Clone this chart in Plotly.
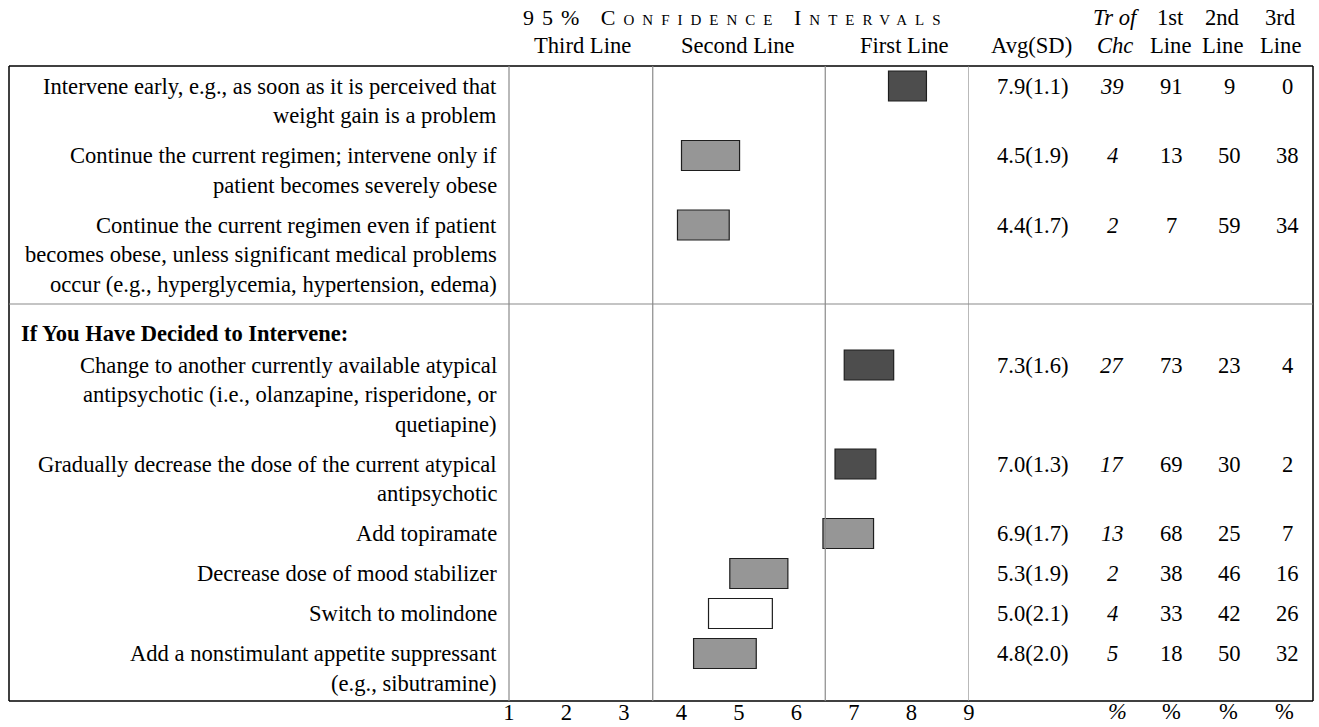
import plotly.graph_objects as go

# ---- data ---------------------------------------------------------------
labels = [
    ["Intervene early, e.g., as soon as it is perceived that", "weight gain is a problem"],
    ["Continue the current regimen; intervene only if", "patient becomes severely obese"],
    ["Continue the current regimen even if patient",
     "becomes obese, unless significant medical problems",
     "occur (e.g., hyperglycemia, hypertension, edema)"],
    ["Change to another currently available atypical",
     "antipsychotic (i.e., olanzapine, risperidone, or", "quetiapine)"],
    ["Gradually decrease the dose of the current atypical", "antipsychotic"],
    ["Add topiramate"],
    ["Decrease dose of mood stabilizer"],
    ["Switch to molindone"],
    ["Add a nonstimulant appetite suppressant", "(e.g., sibutramine)"],
]
section_title = "If You Have Decided to Intervene:"
section_start = 3  # index of first item under the section heading

avg = [7.9, 4.5, 4.4, 7.3, 7.0, 6.9, 5.3, 5.0, 4.8]
sd = [1.1, 1.9, 1.7, 1.6, 1.3, 1.7, 1.9, 2.1, 2.0]
ci_low = [7.60, 4.00, 3.93, 6.83, 6.67, 6.46, 4.84, 4.47, 4.21]
ci_high = [8.26, 5.01, 4.83, 7.69, 7.38, 7.34, 5.85, 5.58, 5.30]
rating = ["first", "second", "second", "first", "first", "second", "second", "none", "second"]
tr_chc = [39, 4, 2, 27, 17, 13, 2, 4, 5]
pct_first = [91, 13, 7, 73, 69, 68, 38, 33, 18]
pct_second = [9, 50, 59, 23, 30, 25, 46, 42, 50]
pct_third = [0, 38, 34, 4, 2, 7, 16, 26, 32]

scale_ticks = [1, 2, 3, 4, 5, 6, 7, 8, 9]
zone_bounds = [3.5, 6.5, 9]
zone_names = ["Third Line", "Second Line", "First Line"]

# ---- styling / layout constants ----------------------------------------
W, H = 1319, 727
FONT = "Liberation Serif"
FS = 22.6
LINE = 29.5
GAP = 10.5
TOP, BOTTOM, LEFT, RIGHT = 66, 701, 9, 1313
LABEL_RIGHT = 499
PLOT_X0, PLOT_X1 = 509, 969
GRID = "#8a8a8a"
fills = {"first": "#4d4d4d", "second": "#969696", "none": "#ffffff"}

# right-hand table column centres (pixels)
col_avg, col_tr, col_1, col_2, col_3 = 1033, 1112, 1171, 1229, 1287


def px(x):
    return x / W


# ---- vertical positions of rows -----------------------------------------
row_y = []
y = 86
for i, lines in enumerate(labels):
    if i == section_start:
        header_y = y + 9
        sep_y = header_y - 29
        y = header_y + 32
    row_y.append(y)
    y += len(lines) * LINE + GAP

fig = go.Figure()

# confidence-interval boxes
for r in ["first", "second", "none"]:
    idx = [i for i in range(len(avg)) if rating[i] == r]
    fig.add_trace(go.Bar(
        orientation="h",
        y=[row_y[i] for i in idx],
        base=[ci_low[i] for i in idx],
        x=[ci_high[i] - ci_low[i] for i in idx],
        width=30,
        marker=dict(color=fills[r], line=dict(color="#1e1e1e", width=1.2)),
        showlegend=False,
        hoverinfo="skip",
    ))

shapes = []
# frame
for (x0, y0, x1, y1) in [(LEFT, TOP, RIGHT, TOP), (LEFT, BOTTOM, RIGHT, BOTTOM),
                         (LEFT, TOP, LEFT, BOTTOM), (RIGHT, TOP, RIGHT, BOTTOM)]:
    shapes.append(dict(type="line", xref="paper", yref="y", x0=px(x0), x1=px(x1),
                       y0=y0, y1=y1, line=dict(color="black", width=1.5)))
# section separator
shapes.append(dict(type="line", xref="paper", yref="y", x0=px(LEFT), x1=px(RIGHT),
                   y0=sep_y, y1=sep_y, line=dict(color=GRID, width=1.2)))
# column dividers
shapes.append(dict(type="line", xref="paper", yref="y", x0=px(PLOT_X0), x1=px(PLOT_X0),
                   y0=TOP, y1=BOTTOM, line=dict(color=GRID, width=1.2)))
for b in zone_bounds:
    shapes.append(dict(type="line", xref="x", yref="y", x0=b, x1=b,
                       y0=TOP, y1=BOTTOM, line=dict(color=GRID, width=1.2)))

ann = []


def text(x, y, s, anchor="center", size=FS, italic=False, bold=False):
    if italic:
        s = "<i>" + s + "</i>"
    if bold:
        s = "<b>" + s + "</b>"
    ann.append(dict(x=px(x), y=y, xref="paper", yref="y", text=s, showarrow=False,
                    xanchor=anchor, yanchor="middle",
                    font=dict(family=FONT, size=size, color="black")))


# row labels
for i, lines in enumerate(labels):
    for j, line in enumerate(lines):
        text(LABEL_RIGHT, row_y[i] + j * LINE, line, anchor="right")
text(19, header_y, section_title, anchor="left", bold=True, size=22.5)

# right-hand values
for i in range(len(avg)):
    yy = row_y[i]
    text(col_avg, yy, f"{avg[i]:.1f}({sd[i]:.1f})")
    text(col_tr, yy, str(tr_chc[i]), italic=True)
    text(col_1, yy, str(pct_first[i]))
    text(col_2, yy, str(pct_second[i]))
    text(col_3, yy, str(pct_third[i]))

# headers
H1, H2 = 17, 45
ann.append(dict(x=px(736), y=H1, xref="paper", yref="y", showarrow=False,
                xanchor="center", yanchor="middle",
                text="<span style='letter-spacing:8px;font-variant:small-caps'>95% Confidence Intervals</span>",
                font=dict(family=FONT, size=22, color="black")))
for name, cx in zip(zone_names, [582, 738, 904]):
    text(cx, H2, name)
text(col_avg - 2, H2, "Avg(SD)")
text(col_tr + 4, H1, "Tr of", italic=True)
text(col_tr + 3, H2, "Chc", italic=True)
for cx, top in [(col_1 - 1, "1st"), (col_2 - 7, "2nd"), (col_3 - 7, "3rd")]:
    text(cx, H1, top)
    text(cx, H2, "Line")

# unit row under the table
UNIT_Y = 711
text(col_tr + 5, UNIT_Y, "%", italic=True)
for cx in [col_1, col_2 - 1, col_3 - 3]:
    text(cx, UNIT_Y, "%")

fig.update_layout(
    width=W, height=H,
    margin=dict(l=0, r=0, t=0, b=0, pad=0, autoexpand=False),
    paper_bgcolor="white", plot_bgcolor="white",
    barmode="overlay",
    shapes=shapes, annotations=ann,
    xaxis=dict(domain=[px(PLOT_X0), px(PLOT_X1)], range=[1, 9], anchor="free",
               position=(H - BOTTOM + 5) / H, tickvals=scale_ticks,
               ticks="", showgrid=False, zeroline=False, showline=False,
               automargin=False,
               tickfont=dict(family=FONT, size=FS, color="black")),
    yaxis=dict(domain=[0, 1], range=[H, 0], visible=False, fixedrange=True),
    showlegend=False,
)

fig.write_html("out.html")
